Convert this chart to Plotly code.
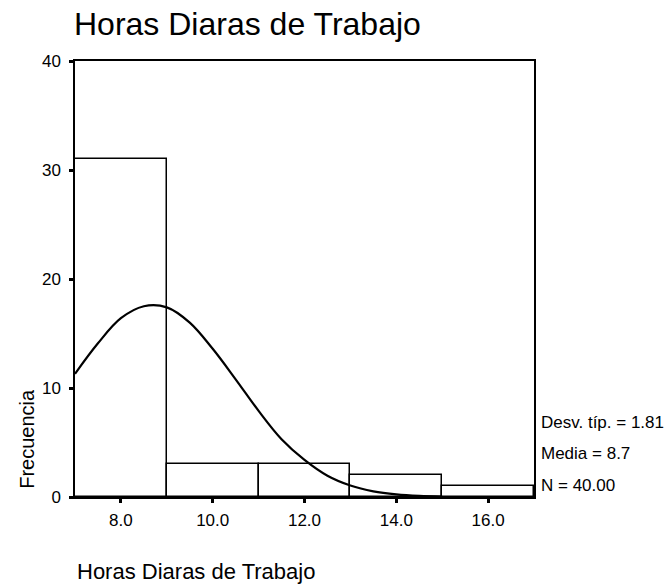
import plotly.graph_objects as go

# histogram bins (centres) and counts
bin_centres = [8, 10, 12, 14, 16]
counts = [31, 3, 3, 2, 1]

# normal curve
curve_x = [7, 7.5, 8, 8.5, 9, 9.5, 10, 10.5, 11, 11.5, 12, 12.5, 13, 13.5, 14, 14.5, 15]
curve_y = [11.3, 14.1, 16.4, 17.5, 17.4, 16.0, 13.6, 10.8, 7.9, 5.3, 3.4, 1.95, 1.05, 0.52, 0.24, 0.1, 0.04]

y_ticks = [0, 10, 20, 30, 40]
x_ticks = [8, 10, 12, 14, 16]
x_tick_labels = ["8.0", "10.0", "12.0", "14.0", "16.0"]

stats = ["Desv. típ. = 1.81", "Media = 8.7", "N = 40.00"]

FONT = "Liberation Sans, Arial, sans-serif"

fig = go.Figure()
fig.add_trace(go.Bar(
    x=bin_centres, y=counts, width=2,
    marker=dict(color="white", line=dict(color="black", width=1.5)),
    showlegend=False, hoverinfo="skip",
))
fig.add_trace(go.Scatter(
    x=curve_x, y=curve_y, mode="lines", line_shape="spline",
    line=dict(color="black", width=2.2), showlegend=False, hoverinfo="skip",
))

fig.update_layout(
    width=672, height=587,
    margin=dict(l=75, r=138, t=61, b=90),
    paper_bgcolor="white", plot_bgcolor="white",
    font=dict(family=FONT, color="black"),
    bargap=0,
)
fig.update_xaxes(
    range=[7, 17], tickvals=x_ticks, ticktext=x_tick_labels,
    showline=True, linecolor="black", linewidth=1.5, mirror=True,
    ticks="outside", ticklen=4, tickwidth=3, tickcolor="black",
    showgrid=False, zeroline=False, tickfont=dict(size=17),
    ticklabelstandoff=3,
)
fig.update_yaxes(
    range=[0, 40], tickvals=y_ticks,
    showline=True, linecolor="black", linewidth=1.5, mirror=True,
    ticks="outside", ticklen=4, tickwidth=3, tickcolor="black",
    showgrid=False, zeroline=False, tickfont=dict(size=17),
    ticklabelstandoff=5,
)

fig.add_annotation(
    text="Horas Diaras de Trabajo", xref="paper", yref="paper",
    x=-0.007, y=1.085, xanchor="left", yanchor="middle",
    showarrow=False, font=dict(size=32),
)
fig.add_annotation(
    text="Horas Diaras de Trabajo", xref="paper", yref="paper",
    x=0.0, y=-0.17, xanchor="left", yanchor="middle",
    showarrow=False, font=dict(size=22),
)
fig.add_annotation(
    text="Frecuencia", xref="paper", yref="paper",
    x=-0.105, y=0.133, xanchor="center", yanchor="middle", textangle=-90,
    showarrow=False, font=dict(size=20),
)
for i, s in enumerate(stats):
    fig.add_annotation(
        text=s, xref="paper", yref="paper",
        x=1.011, y=0.172 - i * 0.0725, xanchor="left", yanchor="middle",
        showarrow=False, font=dict(size=17),
    )

# page body has an 8px default margin, drop it so the figure sits at 0,0
fig.write_html(
    "out.html",
    config={"displayModeBar": False},
    post_script="document.body.style.margin='0px';",
)
